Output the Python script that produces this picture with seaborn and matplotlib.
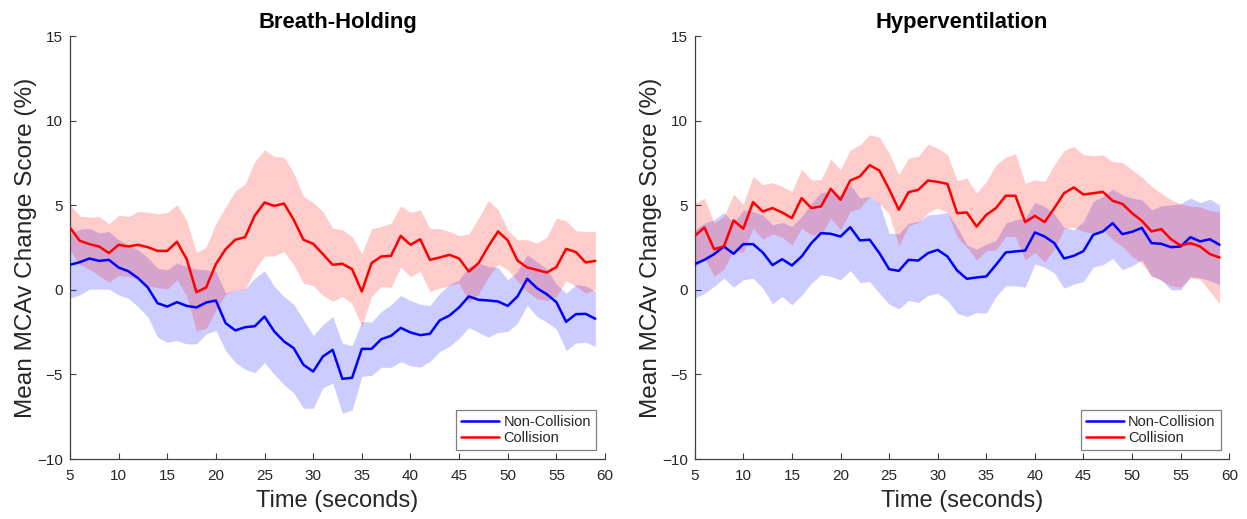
import numpy as np
import pandas as pd
import matplotlib
matplotlib.use("Agg")
import matplotlib.pyplot as plt
import seaborn as sns

# ---------------- data ----------------
time = list(range(5, 60))

bh_nc_mean = [1.48, 1.63, 1.85, 1.71, 1.77, 1.32, 1.10, 0.69, 0.14, -0.79, -0.99, -0.73, -0.95, -1.04, -0.75,
              -0.63, -1.97, -2.40, -2.21, -2.15, -1.58, -2.46, -3.05, -3.45, -4.43, -4.83, -3.94, -3.55, -5.26,
              -5.20, -3.49, -3.49, -2.92, -2.72, -2.25, -2.52, -2.68, -2.60, -1.81, -1.52, -1.04, -0.39, -0.59,
              -0.63, -0.69, -0.95, -0.39, 0.65, 0.10, -0.26, -0.73, -1.89, -1.44, -1.42, -1.71]
bh_nc_upper = [3.30, 3.58, 3.64, 3.35, 3.45, 2.95, 2.66, 2.36, 1.91, 1.28, 1.18, 1.58, 1.38, 1.22, 1.18,
               1.08, -0.20, 0.00, 0.04, 0.69, 1.12, 0.20, -0.40, -0.85, -1.77, -2.70, -2.07, -1.58, -3.15,
               -3.30, -1.87, -1.91, -1.28, -0.89, -0.33, -0.63, -0.85, -0.93, -0.20, 0.30, 0.59, 1.38, 1.58,
               1.38, 1.32, 0.59, 1.08, 2.07, 1.67, 1.22, 0.33, -0.20, 0.30, 0.24, -0.10]
bh_nc_lower = [-0.49, -0.30, 0.04, 0.04, 0.04, -0.30, -0.50, -1.00, -1.60, -2.80, -3.10, -3.00, -3.20, -3.20, -2.60,
               -2.40, -3.60, -4.30, -4.70, -4.90, -4.30, -5.00, -5.60, -6.10, -7.00, -7.00, -5.80, -5.50, -7.30,
               -7.10, -5.12, -5.06, -4.57, -4.59, -4.24, -4.49, -4.57, -4.24, -3.64, -3.35, -2.86, -2.23, -2.52,
               -2.80, -2.52, -2.46, -1.97, -0.91, -1.58, -1.91, -2.32, -3.59, -3.15, -3.09, -3.35]

bh_c_mean = [3.68, 2.90, 2.70, 2.56, 2.17, 2.66, 2.56, 2.66, 2.52, 2.30, 2.30, 2.84, 1.81, -0.14, 0.14,
             1.52, 2.40, 2.96, 3.11, 4.39, 5.16, 4.96, 5.10, 4.14, 2.96, 2.72, 2.11, 1.48, 1.54,
             1.22, -0.10, 1.58, 1.97, 2.01, 3.19, 2.66, 2.99, 1.77, 1.91, 2.07, 1.85, 1.08, 1.58,
             2.56, 3.45, 2.92, 1.73, 1.32, 1.18, 1.02, 1.34, 2.42, 2.23, 1.62, 1.71]
bh_c_upper = [5.02, 4.37, 4.29, 4.33, 3.90, 4.41, 4.33, 4.63, 4.59, 4.49, 4.57, 5.02, 4.10, 2.21, 2.52,
              3.94, 4.89, 5.85, 6.25, 7.58, 8.27, 7.88, 7.84, 6.90, 5.52, 5.16, 4.63, 3.64, 3.55,
              3.15, 2.13, 3.61, 3.74, 3.94, 4.96, 4.57, 4.73, 3.64, 3.61, 3.45, 3.20, 3.31, 4.24,
              5.28, 4.73, 3.55, 2.96, 2.96, 2.76, 3.11, 4.24, 4.08, 3.49, 3.45, 3.45]
bh_c_lower = [2.36, 1.48, 1.22, 0.83, 0.45, 0.85, 0.79, 0.63, 0.24, 0.14, 0.04, 0.59, -0.35, -2.42, -2.27,
              -1.18, -0.26, 0.00, 0.00, 1.18, 2.00, 2.00, 2.27, 1.48, 0.39, 0.24, -0.33, -0.69, -0.39,
              -0.83, -2.17, -0.39, 0.20, 0.14, 1.34, 0.79, 1.08, -0.10, 0.10, 0.24, 0.40, -0.75, -0.26,
              0.75, 1.52, 1.18, 0.53, -0.10, -0.53, -0.63, -0.39, 0.55, 0.20, -0.20, 0.00]

hv_nc_mean = [1.52, 1.77, 2.11, 2.56, 2.13, 2.70, 2.70, 2.21, 1.46, 1.81, 1.44, 1.97, 2.76, 3.35, 3.31,
              3.15, 3.70, 2.92, 2.96, 2.17, 1.22, 1.12, 1.77, 1.73, 2.17, 2.36, 1.97, 1.14, 0.65,
              0.73, 0.79, 1.48, 2.21, 2.27, 2.32, 3.39, 3.15, 2.76, 1.85, 2.01, 2.29, 3.25, 3.45,
              3.94, 3.29, 3.43, 3.66, 2.76, 2.72, 2.52, 2.56, 3.11, 2.86, 2.99, 2.66]
hv_nc_upper = [3.55, 3.94, 4.14, 4.57, 3.94, 4.73, 4.63, 4.43, 3.84, 3.98, 3.74, 4.33, 5.12, 5.75, 5.81,
               5.61, 6.21, 5.42, 5.52, 5.12, 3.35, 3.31, 3.94, 4.04, 4.43, 4.47, 4.57, 3.70, 2.66,
               2.40, 2.70, 2.92, 3.94, 4.14, 4.24, 5.16, 4.93, 4.47, 3.68, 3.55, 4.04, 5.22, 5.52,
               5.95, 5.61, 5.42, 5.32, 4.73, 4.96, 5.02, 5.08, 5.42, 5.16, 5.36, 5.02]
hv_nc_lower = [-0.49, -0.20, 0.20, 0.69, 0.16, 0.59, 0.69, 0.10, -0.83, -0.39, -0.89, -0.33, 0.39, 0.89, 0.79,
               0.59, 1.14, 0.43, 0.49, -0.20, -0.85, -1.12, -0.63, -0.75, -0.33, -0.20, -0.63, -1.38, -1.58,
               -1.34, -1.38, -0.39, 0.24, 0.24, 0.16, 1.52, 1.34, 0.99, 0.10, 0.33, 0.49, 1.34, 1.48,
               1.85, 1.18, 1.42, 1.77, 0.83, 0.59, 0.00, 0.00, 0.79, 0.69, 0.55, 0.30]

hv_c_mean = [3.19, 3.68, 2.40, 2.56, 4.10, 3.61, 5.18, 4.63, 4.83, 4.57, 4.24, 5.42, 4.83, 4.93, 5.97,
             5.32, 6.46, 6.70, 7.37, 7.05, 5.95, 4.73, 5.77, 5.91, 6.46, 6.38, 6.26, 4.53, 4.57,
             3.74, 4.43, 4.83, 5.56, 5.56, 4.00, 4.37, 4.00, 4.83, 5.71, 6.05, 5.63, 5.71, 5.79,
             5.26, 5.08, 4.53, 4.08, 3.45, 3.59, 2.99, 2.62, 2.76, 2.56, 2.11, 1.91]
hv_c_upper = [5.12, 5.42, 3.94, 4.33, 5.65, 5.06, 6.70, 6.21, 6.34, 6.11, 5.81, 7.13, 6.50, 6.50, 7.74,
              7.09, 8.27, 8.57, 9.16, 9.02, 8.08, 6.80, 7.78, 7.88, 8.61, 8.37, 7.98, 6.46, 6.60,
              5.71, 6.40, 7.39, 7.84, 8.04, 6.30, 6.50, 6.40, 7.39, 8.23, 8.47, 7.98, 7.92, 7.98,
              7.57, 7.53, 7.09, 6.66, 6.11, 5.71, 5.32, 5.08, 4.95, 4.90, 4.70, 4.60]
hv_c_lower = [1.30, 1.90, 0.79, 1.22, 2.36, 2.21, 3.64, 2.99, 3.31, 3.11, 2.66, 3.64, 3.25, 3.25, 4.24,
              3.55, 4.63, 4.83, 5.52, 5.08, 4.50, 2.60, 3.78, 3.98, 4.57, 4.83, 4.57, 3.11, 2.52,
              1.77, 2.30, 2.36, 3.15, 3.15, 1.77, 2.21, 1.64, 2.40, 3.61, 3.70, 3.45, 3.35, 3.55,
              2.96, 2.56, 1.97, 1.58, 0.79, 0.55, 0.24, 0.16, 0.69, 0.63, -0.10, -0.83]

titles = ["Breath-Holding", "Hyperventilation"]
series_names = ["Non-Collision", "Collision"]
x_ticks = [5, 10, 15, 20, 25, 30, 35, 40, 45, 50, 55, 60]
y_ticks = [-10, -5, 0, 5, 10, 15]

# ---------------- style ----------------
sns.set_style("ticks")
plt.rcParams["font.family"] = ["Liberation Sans", "DejaVu Sans"]
plt.rcParams["axes.linewidth"] = 0.9

AX_COL = "#404040"
TXT_COL = "#262626"
colors = {"Non-Collision": (0, 0, 1), "Collision": (1, 0, 0)}

fig = plt.figure(figsize=(12.47, 5.19), dpi=100)
ax_pos = [[0.0561, 0.1156, 0.4291, 0.815], [0.5571, 0.1156, 0.4287, 0.815]]

panels = [
    {"Non-Collision": (bh_nc_mean, bh_nc_lower, bh_nc_upper), "Collision": (bh_c_mean, bh_c_lower, bh_c_upper)},
    {"Non-Collision": (hv_nc_mean, hv_nc_lower, hv_nc_upper), "Collision": (hv_c_mean, hv_c_lower, hv_c_upper)},
]

for i, (pos, panel, title) in enumerate(zip(ax_pos, panels, titles)):
    ax = fig.add_axes(pos)
    for name in series_names:
        m, lo, up = panel[name]
        ax.fill_between(time, lo, up, color=colors[name], alpha=0.2, linewidth=0, zorder=1)
    for name in series_names:
        m, lo, up = panel[name]
        df = pd.DataFrame({"Time": time, "Value": m})
        sns.lineplot(data=df, x="Time", y="Value", color=colors[name], linewidth=1.8,
                     label=name, ax=ax, zorder=3)

    ax.set_xlim(5, 60)
    ax.set_ylim(-10, 15)
    ax.set_xticks(x_ticks)
    ax.set_yticks(y_ticks)
    ax.tick_params(direction="in", length=4, width=0.8, colors=AX_COL, labelcolor=TXT_COL,
                   labelsize=11)
    ax.tick_params(axis="x", pad=7)
    ax.tick_params(axis="y", pad=5)
    for side in ["top", "right"]:
        ax.spines[side].set_visible(False)
    for side in ["left", "bottom"]:
        ax.spines[side].set_color(AX_COL)
        ax.spines[side].set_linewidth(0.9)

    ax.set_xlabel("Time (seconds)", fontsize=17, color=TXT_COL, labelpad=5)
    ax.set_ylabel("Mean MCAv Change Score (%)", fontsize=17.6, color=TXT_COL, labelpad=0)
    ax.set_title(title, fontsize=15.8, fontweight="bold", color="black", pad=5.5)

    leg = ax.legend(loc="lower right", fontsize=10.5, frameon=True, fancybox=False,
                    borderaxespad=0.6, handlelength=2.6, handletextpad=0.3,
                    borderpad=0.35, labelspacing=0.15)
    leg.get_frame().set_edgecolor("#808080")
    leg.get_frame().set_linewidth(0.9)
    leg.get_frame().set_alpha(1)
    for t in leg.get_texts():
        t.set_color(TXT_COL)

fig.savefig("out.png", dpi=100, facecolor="white")
